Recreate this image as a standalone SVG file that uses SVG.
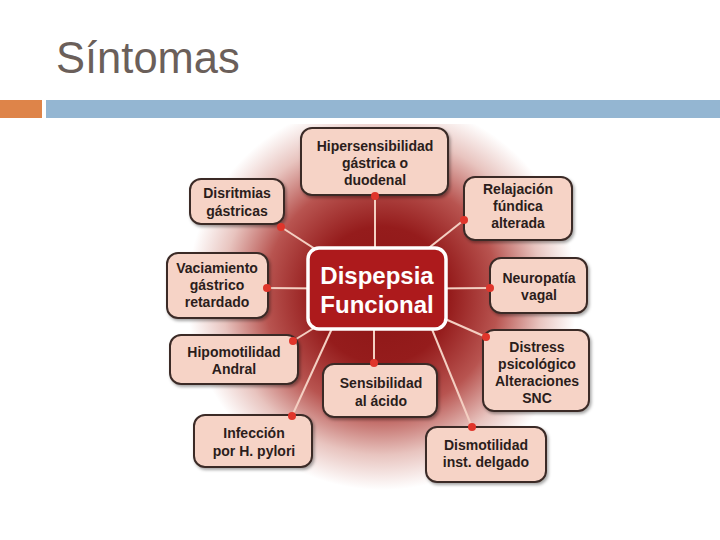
<svg xmlns="http://www.w3.org/2000/svg" width="720" height="540" viewBox="0 0 720 540">
<style>
.node rect{fill:#f6d3c6;stroke:#3b2b28;stroke-width:2;filter:url(#sh)}
.node text{font-family:"Liberation Sans",Arial,sans-serif;font-weight:bold;font-size:14px;fill:#2b1d1b;text-anchor:middle}
.conn line{stroke:#f4cfc2;stroke-width:2}
.dot{fill:#e0352b}
</style>
<defs>
<radialGradient id="bg" cx="382" cy="295" r="195" gradientUnits="userSpaceOnUse">
<stop offset="0" stop-color="#8c1616"/>
<stop offset="0.35" stop-color="#951c1c"/>
<stop offset="0.6" stop-color="#b85450"/>
<stop offset="0.82" stop-color="#e8c4bf"/>
<stop offset="1" stop-color="#ffffff"/>
</radialGradient>
<clipPath id="clip"><rect x="150" y="124" width="460" height="380"/></clipPath>
<filter id="sh" x="-20%" y="-20%" width="140%" height="140%">
<feDropShadow dx="1.5" dy="2" stdDeviation="1.5" flood-color="#000" flood-opacity="0.35"/>
</filter>
</defs>
<rect width="720" height="540" fill="#ffffff"/>
<text x="56" y="73" font-family="Liberation Sans,Arial,sans-serif" font-size="43.5" fill="#6b5f5a">Síntomas</text>
<rect x="0" y="100" width="42" height="18" fill="#de8449"/>
<rect x="46" y="100" width="674" height="18" fill="#94b6d2"/>
<circle cx="382" cy="295" r="195" fill="url(#bg)" clip-path="url(#clip)"/>
<g class="conn">
<line x1="375" y1="196" x2="375" y2="289"/>
<line x1="281" y1="227" x2="377" y2="289"/>
<line x1="464" y1="220" x2="377" y2="289"/>
<line x1="267" y1="288" x2="377" y2="289"/>
<line x1="490" y1="288" x2="377" y2="289"/>
<line x1="293" y1="341" x2="377" y2="289"/>
<line x1="374" y1="363" x2="374" y2="289"/>
<line x1="486" y1="337" x2="377" y2="289"/>
<line x1="292" y1="416" x2="345" y2="300"/>
<line x1="472" y1="427" x2="420" y2="300"/>
</g>
<g id="center">
<rect x="308" y="248" width="138" height="81" rx="11" fill="#ad1a1c" stroke="#ffffff" stroke-width="3.5"/>
<text x="377" y="284" text-anchor="middle" font-family="Liberation Sans,Arial,sans-serif" font-weight="bold" font-size="24" fill="#ffffff">Dispepsia</text>
<text x="377" y="313" text-anchor="middle" font-family="Liberation Sans,Arial,sans-serif" font-weight="bold" font-size="24" fill="#ffffff">Funcional</text>
</g>
<g id="n1" class="node"><rect x="301" y="128" width="147" height="67" rx="11"/>
<text x="375" y="151">Hipersensibilidad</text><text x="375" y="168">gástrica o</text><text x="375" y="185">duodenal</text><circle class="dot" cx="375" cy="196" r="4"/></g>
<g id="n2" class="node"><rect x="190" y="179" width="94" height="45" rx="11"/>
<text x="237" y="198">Disritmias</text><text x="237" y="216">gástricas</text><circle class="dot" cx="281" cy="227" r="4"/></g>
<g id="n3" class="node"><rect x="464" y="177" width="108" height="63" rx="11"/>
<text x="518" y="194">Relajación</text><text x="518" y="211">fúndica</text><text x="518" y="228">alterada</text><circle class="dot" cx="464" cy="220" r="4"/></g>
<g id="n4" class="node"><rect x="167" y="253" width="101" height="65" rx="11"/>
<text x="217" y="273">Vaciamiento</text><text x="217" y="290">gástrico</text><text x="217" y="307">retardado</text><circle class="dot" cx="267" cy="288" r="4"/></g>
<g id="n5" class="node"><rect x="490" y="258" width="97" height="55" rx="11"/>
<text x="539" y="283">Neuropatía</text><text x="539" y="300">vagal</text><circle class="dot" cx="490" cy="288" r="4"/></g>
<g id="n6" class="node"><rect x="170" y="335" width="128" height="49" rx="11"/>
<text x="234" y="357">Hipomotilidad</text><text x="234" y="374">Andral</text><circle class="dot" cx="293" cy="341" r="4"/></g>
<g id="n7" class="node"><rect x="323" y="364" width="114" height="53" rx="11"/>
<text x="381" y="388">Sensibilidad</text><text x="381" y="406">al ácido</text><circle class="dot" cx="374" cy="363" r="4"/></g>
<g id="n8" class="node"><rect x="483" y="330" width="106" height="81" rx="11"/>
<text x="537" y="352">Distress</text><text x="537" y="369">psicológico</text><text x="537" y="386">Alteraciones</text><text x="537" y="403">SNC</text><circle class="dot" cx="486" cy="337" r="4"/></g>
<g id="n9" class="node"><rect x="194" y="415" width="118" height="52" rx="11"/>
<text x="254" y="438">Infección</text><text x="254" y="456">por H. pylori</text><circle class="dot" cx="292" cy="416" r="4"/></g>
<g id="n10" class="node"><rect x="426" y="427" width="120" height="55" rx="11"/>
<text x="486" y="450">Dismotilidad</text><text x="486" y="467">inst. delgado</text><circle class="dot" cx="472" cy="427" r="4"/></g>
</svg>
